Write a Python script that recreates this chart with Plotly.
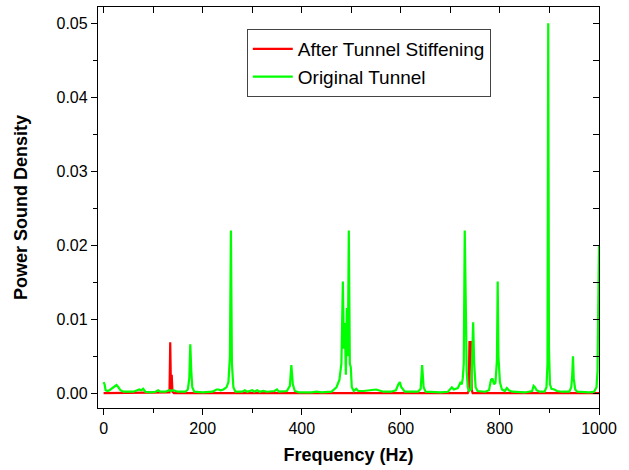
import plotly.graph_objects as go

# Spectrum of the stiffened tunnel (frequency in Hz, PSD)
after_freq = [0, 130, 133, 134.5, 136, 137.5, 139, 142, 735, 737, 738.5, 741.5, 743, 745, 1000]
after_psd = [0, 0, 0.0001, 0.0069, 0.0005, 0.0025, 0.0002, 0, 0, 0.0003, 0.0069, 0.0069, 0.0005, 0, 0]

# Spectrum of the original tunnel
orig_freq = [0, 2, 4, 8, 12, 18, 22, 26, 30, 34, 40, 50, 60, 68, 72, 76, 80, 84, 95, 105,
             110, 114, 125, 132, 136, 140, 150, 165, 170, 173, 175, 177, 179, 183, 200, 220,
             228, 232, 236, 242, 248, 252, 255, 257, 259, 262, 266, 280, 285, 290, 300, 304,
             310, 315, 322, 330, 345, 350, 354, 370, 376, 379, 382, 386, 395, 420, 430, 440,
             460, 470, 476, 480, 483, 485, 487, 489, 491, 493, 495, 497, 499, 501, 505, 510,
             514, 525, 540, 550, 555, 565, 580, 590, 595, 598, 601, 604, 608, 620, 635, 640,
             643, 646, 650, 680, 695, 703, 707, 715, 720, 723, 725, 727, 729, 731, 733, 735,
             738, 742, 744, 746, 748, 751, 755, 770, 778, 782, 785, 788, 791, 794, 795.5, 797,
             800, 804, 810, 814, 818, 825, 850, 865, 868, 871, 874, 880, 890, 894, 896, 897.5,
             899, 901, 904, 910, 915, 925, 940, 944, 946, 947.5, 949, 952, 956, 980, 990, 995,
             997, 999, 1000]
orig_psd = [0.0015, 0.0012, 0.0004, 0.0003, 0.0004, 0.0007, 0.0010, 0.0011, 0.0008, 0.0004,
            0.0002, 0.0002, 0.0002, 0.0004, 0.0005, 0.0004, 0.0006, 0.0002, 0.0001, 0.0002,
            0.0004, 0.0002, 0.0002, 0.0004, 0.0003, 0.0004, 0.0002, 0.0002, 0.0005, 0.002,
            0.0066, 0.003, 0.0008, 0.0002, 0.0001, 0.0002, 0.0005, 0.0005, 0.0004, 0.0005,
            0.0008, 0.0015, 0.005, 0.022, 0.004, 0.0008, 0.0002, 0.0002, 0.0004, 0.0002,
            0.0004, 0.0002, 0.0004, 0.0002, 0.0003, 0.0002, 0.0003, 0.0005, 0.0002, 0.0003,
            0.001, 0.0038, 0.0012, 0.0003, 0.0001, 0.0001, 0.0002, 0.0001, 0.0002, 0.0008,
            0.0018, 0.004, 0.0151, 0.006, 0.0095, 0.0025, 0.0115, 0.005, 0.022, 0.004,
            0.0035, 0.0008, 0.0003, 0.0006, 0.0003, 0.0003, 0.0004, 0.0005, 0.0004, 0.0002,
            0.0002, 0.0004, 0.0012, 0.0015, 0.0008, 0.0006, 0.0002, 0.0002, 0.0002, 0.0006,
            0.0038, 0.0008, 0.0002, 0.0001, 0.0002, 0.0008, 0.0005, 0.0007, 0.0014, 0.0012,
            0.002, 0.004, 0.022, 0.0125, 0.003, 0.0008, 0.0003, 0.0005, 0.004, 0.0096,
            0.004, 0.0008, 0.0003, 0.0002, 0.0004, 0.0018, 0.002, 0.0012, 0.0014, 0.0045,
            0.0151, 0.005, 0.0015, 0.0005, 0.0003, 0.0007, 0.0004, 0.0002, 0.0001, 0.0003,
            0.001, 0.0008, 0.0004, 0.0002, 0.0002, 0.0008, 0.004, 0.05, 0.006, 0.0012,
            0.0006, 0.0005, 0.0003, 0.0002, 0.0002, 0.0008, 0.0025, 0.005, 0.002, 0.0005,
            0.0002, 0.0001, 0.0002, 0.0008, 0.003, 0.012, 0.02]

x_range = [-11.3, 1000]
y_range = [-0.002, 0.0522]

fig = go.Figure()
fig.add_trace(go.Scatter(x=after_freq, y=after_psd, mode="lines", name="After Tunnel Stiffening",
                         line=dict(color="#ff0000", width=2.2), legendgroup="a"))
fig.add_trace(go.Scatter(x=orig_freq, y=orig_psd, mode="lines", name="Original Tunnel",
                         line=dict(color="#00ff00", width=2.2), legendgroup="b"))
# carrier for the mirrored top/right axes
fig.add_trace(go.Scatter(x=[None], y=[None], xaxis="x2", yaxis="y2", showlegend=False,
                         hoverinfo="skip"))

tick_font = dict(family="Arial, Liberation Sans", size=16, color="#000")
title_font = dict(family="Arial Black, Liberation Sans", size=18, color="#000")

fig.update_layout(
    width=629, height=470,
    margin=dict(l=98, r=30, t=7, b=62),
    plot_bgcolor="white", paper_bgcolor="white",
    font=dict(family="Arial, Liberation Sans", color="#000"),
    xaxis=dict(range=x_range, showgrid=False, zeroline=False, showline=True, linecolor="#000",
               linewidth=1.3, mirror=True, ticks="outside", ticklen=6, tickwidth=1.3,
               tickcolor="#000", tick0=0, dtick=200, tickfont=tick_font,
               minor=dict(ticks="outside", ticklen=4, tickwidth=1.3, tickcolor="#000", dtick=100, tick0=0),
               title=dict(text="<b>Frequency (Hz)</b>", font=title_font, standoff=12)),
    yaxis=dict(range=y_range, showgrid=False, zeroline=False, showline=True, linecolor="#000",
               linewidth=1.3, mirror=True, ticks="outside", ticklen=6, tickwidth=1.3,
               tickcolor="#000", tick0=0, dtick=0.01, tickformat=".2f", tickfont=tick_font,
               minor=dict(ticks="outside", ticklen=4, tickwidth=1.3, tickcolor="#000", dtick=0.005, tick0=0),
               title=dict(text="<b>Power Sound Density</b>", font=title_font, standoff=24)),
    xaxis2=dict(range=x_range, overlaying="x", side="top", showgrid=False, zeroline=False,
                showticklabels=False, ticks="inside", ticklen=6, tickwidth=1.3, tickcolor="#000",
                tick0=0, dtick=100),
    yaxis2=dict(range=y_range, overlaying="y", side="right", showgrid=False, zeroline=False,
                showticklabels=False, ticks="inside", ticklen=6, tickwidth=1.3, tickcolor="#000",
                tick0=0, dtick=0.005),
    legend=dict(x=0.297, y=0.945, xanchor="left", yanchor="top", bgcolor="white",
                bordercolor="#444", borderwidth=1, font=dict(family="Arial, Liberation Sans", size=19),
                tracegroupgap=0, itemwidth=40),
    showlegend=True,
)

fig.write_html("out.html")
